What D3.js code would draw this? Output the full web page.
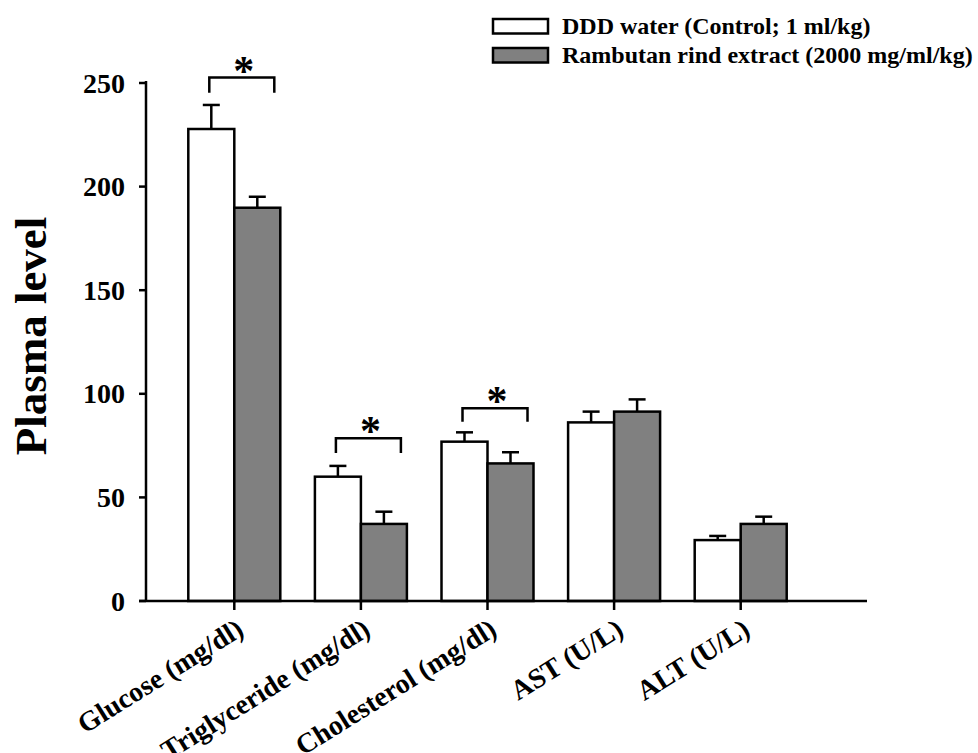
<!DOCTYPE html>
<html>
<head>
<meta charset="utf-8">
<script src="https://cdn.jsdelivr.net/npm/d3@7"></script>
<style>
    body { margin: 0; background: #fff; }
    text { font-family: "Liberation Serif", "Times New Roman", serif; font-weight: bold; fill: #000; }
</style>
</head>
<body>
<div id="chart"></div>
<script>

// values
var categories = ["Glucose (mg/dl)", "Triglyceride (mg/dl)", "Cholesterol (mg/dl)", "AST (U/L)", "ALT (U/L)"];
var seriesNames = ["DDD water (Control; 1 ml/kg)", "Rambutan rind extract (2000 mg/ml/kg)"];
var controlMean = [227.8, 60.0, 76.9, 86.2, 29.4];
var controlErr = [11.6, 5.2, 4.5, 5.2, 2.0];
var extractMean = [189.8, 37.2, 66.4, 91.4, 37.2];
var extractErr = [5.3, 5.9, 5.4, 5.9, 3.5];
var yTicks = [0, 50, 100, 150, 200, 250];

// significance brackets: category index, top of bracket, bottom of legs
var sigIndex = [0, 1, 2];
var sigTop = [252.6, 78.5, 93.0];
var sigLeg = [245.3, 71.4, 86.5];

function BarChart(){
    var self = this;
    self.svgWidth = 978;
    self.svgHeight = 753;
    self.barWidth = 46;
    self.init();
}

BarChart.prototype.init = function(){
    var self = this;

    self.svg = d3.select("#chart").append("svg")
        .attr("width", self.svgWidth)
        .attr("height", self.svgHeight);

    self.xScale = d3.scaleBand()
        .domain(categories)
        .range([171, 804]);

    self.yScale = d3.scaleLinear()
        .domain([0, 250])
        .range([601, 83]);

    var x0 = 146, y0 = self.yScale(0);

    // y axis
    self.svg.append("line")
        .attr("x1", x0).attr("x2", x0)
        .attr("y1", y0).attr("y2", self.yScale(250) - 2)
        .attr("stroke", "#000").attr("stroke-width", 2.5);

    self.svg.selectAll(".ytick").data(yTicks).enter().append("line")
        .attr("x1", x0 - 7).attr("x2", x0)
        .attr("y1", function(d){ return self.yScale(d); })
        .attr("y2", function(d){ return self.yScale(d); })
        .attr("stroke", "#000").attr("stroke-width", 2.5);

    self.svg.selectAll(".ylabel").data(yTicks).enter().append("text")
        .attr("x", 125)
        .attr("y", function(d){ return self.yScale(d); })
        .attr("dy", "0.34em")
        .attr("text-anchor", "end")
        .style("font-size", "28px")
        .text(function(d){ return d; });

    self.svg.append("text")
        .attr("transform", "translate(46,336) rotate(-90)")
        .attr("text-anchor", "middle")
        .style("font-size", "45px")
        .text("Plasma level");

    var g = self.svg.append("g");

    // bars, control first then extract
    var bars = [];
    categories.forEach(function(c, i){
        bars.push({cat: c, side: 0, v: controlMean[i], e: controlErr[i]});
        bars.push({cat: c, side: 1, v: extractMean[i], e: extractErr[i]});
    });

    var cx = function(d){
        var mid = self.xScale(d.cat) + self.xScale.bandwidth() / 2;
        return d.side === 0 ? mid - self.barWidth / 2 : mid + self.barWidth / 2;
    };

    // error bars (drawn under the bars so only the upper half shows)
    g.selectAll(".err").data(bars).enter().append("line")
        .attr("x1", cx).attr("x2", cx)
        .attr("y1", function(d){ return self.yScale(d.v); })
        .attr("y2", function(d){ return self.yScale(d.v + d.e); })
        .attr("stroke", "#000").attr("stroke-width", 2.5);

    g.selectAll(".cap").data(bars).enter().append("line")
        .attr("x1", function(d){ return cx(d) - 8.5; })
        .attr("x2", function(d){ return cx(d) + 8.5; })
        .attr("y1", function(d){ return self.yScale(d.v + d.e); })
        .attr("y2", function(d){ return self.yScale(d.v + d.e); })
        .attr("stroke", "#000").attr("stroke-width", 2.5);

    g.selectAll(".bar").data(bars).enter().append("rect")
        .attr("x", function(d){ return cx(d) - self.barWidth / 2; })
        .attr("y", function(d){ return self.yScale(d.v); })
        .attr("width", self.barWidth)
        .attr("height", function(d){ return y0 - self.yScale(d.v); })
        .attr("fill", function(d){ return d.side === 0 ? "#ffffff" : "#808080"; })
        .attr("stroke", "#000").attr("stroke-width", 2.5);

    // x axis
    self.svg.append("line")
        .attr("x1", x0 - 7).attr("x2", 867)
        .attr("y1", y0).attr("y2", y0)
        .attr("stroke", "#000").attr("stroke-width", 2.5);

    self.svg.selectAll(".xtick").data(categories).enter().append("line")
        .attr("x1", function(d){ return self.xScale(d) + self.xScale.bandwidth() / 2; })
        .attr("x2", function(d){ return self.xScale(d) + self.xScale.bandwidth() / 2; })
        .attr("y1", y0).attr("y2", y0 + 9)
        .attr("stroke", "#000").attr("stroke-width", 2.5);

    self.svg.selectAll(".xlabel").data(categories).enter().append("text")
        .attr("transform", function(d){
            var x = self.xScale(d) + self.xScale.bandwidth() / 2 + 11;
            return "translate(" + x + "," + (y0 + 33) + ") rotate(-32)";
        })
        .attr("text-anchor", "end")
        .style("font-size", "28px")
        .text(function(d){ return d; });

    // significance brackets
    sigIndex.forEach(function(ci, k){
        var mid = self.xScale(categories[ci]) + self.xScale.bandwidth() / 2;
        var xl = mid - 25, xr = mid + 40;
        var yt = self.yScale(sigTop[k]), yl = self.yScale(sigLeg[k]);
        self.svg.append("path")
            .attr("d", "M" + xl + "," + yl + "V" + yt + "H" + xr + "V" + yl)
            .attr("fill", "none")
            .attr("stroke", "#000").attr("stroke-width", 2.5);
        self.svg.append("text")
            .attr("x", (xl + xr) / 2 + 2)
            .attr("y", yt + 7)
            .attr("text-anchor", "middle")
            .style("font-size", "42px")
            .text("*");
    });

    // legend
    var legend = self.svg.append("g");
    var rowY = [19, 48];
    seriesNames.forEach(function(name, i){
        legend.append("rect")
            .attr("x", 493).attr("y", rowY[i])
            .attr("width", 55).attr("height", 14.5)
            .attr("fill", i === 0 ? "#ffffff" : "#808080")
            .attr("stroke", "#000").attr("stroke-width", 2.5);
        legend.append("text")
            .attr("x", 562).attr("y", rowY[i] + 14.5)
            .style("font-size", "24px")
            .text(name);
    });
}

new BarChart();
</script>
</body>
</html>
